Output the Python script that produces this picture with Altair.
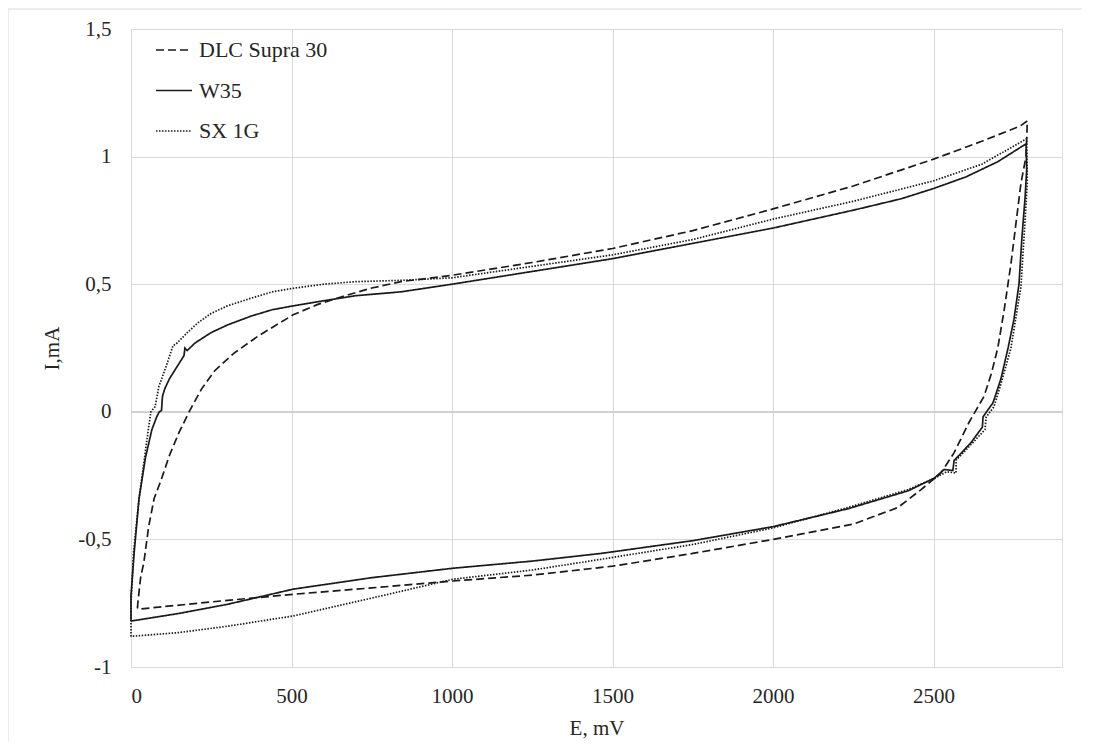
import altair as alt
import pandas as pd

# ---- data ----
series_names = ["DLC Supra 30", "W35", "SX 1G"]

dlc_E = [20, 22, 30, 40, 55, 72, 93, 120, 150, 181, 220, 260, 321, 400, 505, 580, 654, 750, 841,
         1000, 1250, 1500, 1750, 2000, 2250, 2500, 2650, 2770, 2792, 2788, 2772, 2741, 2720, 2700,
         2680, 2657, 2611, 2564, 2523, 2461, 2389, 2250, 2000, 1750, 1500, 1250, 1003, 750, 505,
         250, 25, 20]
dlc_I = [-0.77, -0.74, -0.65, -0.59, -0.45, -0.34, -0.27, -0.17, -0.08, 0.0, 0.09, 0.16, 0.23, 0.30,
         0.38, 0.42, 0.45, 0.485, 0.51, 0.535, 0.585, 0.64, 0.71, 0.795, 0.885, 0.99, 1.06, 1.12,
         1.14, 1.0, 0.895, 0.58, 0.40, 0.25, 0.15, 0.06, -0.04, -0.16, -0.24, -0.305, -0.375,
         -0.44, -0.50, -0.555, -0.605, -0.64, -0.663, -0.69, -0.715, -0.745, -0.773, -0.77]

w35_E = [0, 0, 10, 25, 45, 65, 80, 88, 95, 98, 105, 120, 140, 155, 165, 168, 175, 200, 249, 300,
         374, 440, 505, 600, 700, 841, 1000, 1250, 1500, 1750, 2000, 2250, 2400, 2500, 2600, 2700,
         2788, 2790, 2785, 2775, 2766, 2750, 2732, 2710, 2685, 2665, 2654, 2652, 2617, 2580, 2564,
         2560, 2533, 2502, 2420, 2233, 2000, 1750, 1464, 1250, 1003, 750, 505, 302, 150, 0]
w35_I = [-0.82, -0.72, -0.55, -0.34, -0.18, -0.07, -0.02, 0.0, 0.005, 0.06, 0.09, 0.13, 0.17, 0.2,
         0.22, 0.25, 0.24, 0.27, 0.31, 0.34, 0.375, 0.40, 0.415, 0.435, 0.455, 0.47, 0.50, 0.55,
         0.60, 0.66, 0.72, 0.79, 0.835, 0.875, 0.92, 0.98, 1.05, 0.95, 0.84, 0.68, 0.50, 0.36,
         0.25, 0.13, 0.035, 0.0, -0.02, -0.06, -0.12, -0.17, -0.19, -0.23, -0.226, -0.26, -0.31,
         -0.38, -0.45, -0.505, -0.555, -0.585, -0.613, -0.65, -0.695, -0.754, -0.79, -0.82]

sx_E = [0, 0, 8, 25, 40, 55, 62, 75, 87, 110, 131, 140, 175, 210, 249, 300, 374, 440, 505, 600,
        700, 841, 1000, 1250, 1500, 1750, 2000, 2250, 2500, 2650, 2790, 2792, 2785, 2772, 2741,
        2710, 2688, 2664, 2660, 2623, 2570, 2570, 2540, 2505, 2420, 2233, 2000, 1750, 1464, 1250,
        1003, 750, 505, 302, 150, 0]
sx_I = [-0.88, -0.75, -0.55, -0.34, -0.2, -0.06, 0.0, 0.02, 0.1, 0.18, 0.26, 0.265, 0.31, 0.35,
        0.385, 0.415, 0.445, 0.47, 0.484, 0.50, 0.51, 0.515, 0.525, 0.57, 0.615, 0.675, 0.755,
        0.825, 0.905, 0.97, 1.07, 0.9, 0.75, 0.49, 0.25, 0.11, 0.02, -0.02, -0.07, -0.12, -0.19,
        -0.24, -0.235, -0.26, -0.305, -0.375, -0.455, -0.52, -0.578, -0.62, -0.656, -0.73, -0.80,
        -0.84, -0.865, -0.88]

x_ticks = [0, 500, 1000, 1500, 2000, 2500]
y_ticks = [-1, -0.5, 0, 0.5, 1, 1.5]

rows = []
for name, es, is_ in zip(series_names, [dlc_E, w35_E, sx_E], [dlc_I, w35_I, sx_I]):
    for k, (e, i) in enumerate(zip(es, is_)):
        rows.append({"series": name, "E": e, "I": i, "k": k})
df = pd.DataFrame(rows)

FONT = "Liberation Serif"
TXT = "#262626"
GRID = "#d9d9d9"

xscale = alt.Scale(domain=[0, 2900], nice=False, zero=False)
yscale = alt.Scale(domain=[-1, 1.5], nice=False, zero=False)

lines = alt.Chart(df).mark_line(color="#1a1a1a", strokeWidth=1.7).encode(
    x=alt.X("E:Q", scale=xscale,
            axis=alt.Axis(values=x_ticks, title="E, mV", grid=True, gridColor=GRID,
                          ticks=False, domain=False, labelPadding=18,
                          labelExpr="toString(datum.value)",
                          labelFont=FONT, labelFontSize=21, labelColor=TXT,
                          titleFont=FONT, titleFontSize=21, titleColor=TXT,
                          titleFontWeight="normal", titleY=61, titleBaseline="middle")),
    y=alt.Y("I:Q", scale=yscale,
            axis=alt.Axis(values=y_ticks, title="I,mA", grid=True, gridColor=GRID,
                          ticks=False, domain=False, labelPadding=20,
                          labelExpr="replace(toString(datum.value), '.', ',')",
                          labelFont=FONT, labelFontSize=21, labelColor=TXT,
                          titleFont=FONT, titleFontSize=21, titleColor=TXT,
                          titleFontWeight="normal", titleAngle=-90, titleX=-79, titleY=319,
                          titleAlign="center", titleBaseline="middle")),
    strokeDash=alt.StrokeDash("series:N",
                              scale=alt.Scale(domain=series_names,
                                              range=[[8, 4], [1, 0], [1.5, 1.5]]),
                              legend=alt.Legend(title=None, orient="none", legendX=24, legendY=2,
                                                symbolType="stroke", symbolSize=1296,
                                                symbolStrokeWidth=1.7, symbolStrokeColor="#1a1a1a",
                                                labelFont=FONT, labelFontSize=22, labelColor=TXT,
                                                labelOffset=6, rowPadding=10.5, padding=0,
                                                labelLimit=300)),
    detail="series:N",
    order="k:Q",
)

zero_rule = alt.Chart(alt.Data(values=[{"y": 0}])).mark_rule(color="#bfbfbf", strokeWidth=1).encode(
    y=alt.Y("y:Q", scale=yscale)
)

frame_left = alt.Chart(alt.Data(values=[{"f": 1}])).mark_rule(color=GRID, strokeWidth=1).encode(
    x=alt.value(-123), y=alt.value(-20), y2=alt.value(3000)
)
frame_top = alt.Chart(alt.Data(values=[{"f": 1}])).mark_rule(color=GRID, strokeWidth=1).encode(
    y=alt.value(-20), x=alt.value(-123), x2=alt.value(3000)
)

chart = alt.layer(frame_left, frame_top, zero_rule, lines).properties(
    width=931, height=638,
    autosize=alt.AutoSizeParams(type="none"),
    padding={"left": 123, "top": 21, "right": 20, "bottom": 75},
).configure_view(stroke=None).configure(
    background="white", font=FONT
).configure_legend(labelFont=FONT, labelFontSize=22, labelColor=TXT)

chart.save("out.html", embed_options={"renderer": "svg", "actions": False})
